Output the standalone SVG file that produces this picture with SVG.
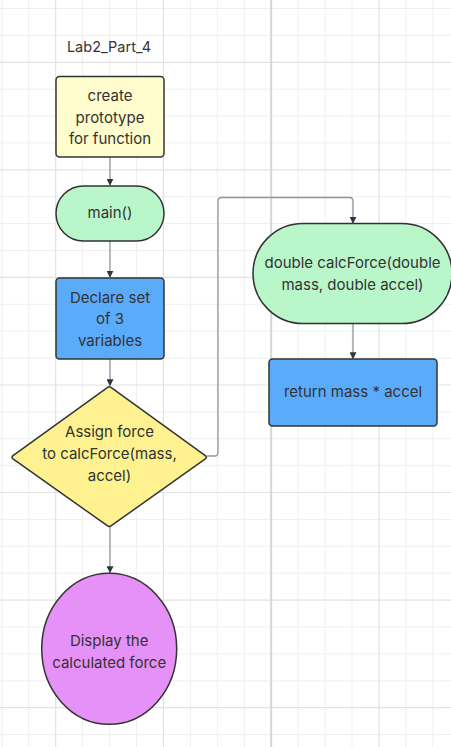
<svg xmlns="http://www.w3.org/2000/svg" width="451" height="747" viewBox="0 0 451 747">
<defs>
<style>
.minor{stroke:#efefef;stroke-width:1;fill:none}
.major{stroke:#e2e2e2;stroke-width:1.2;fill:none}
.page{stroke:#d6d6d6;stroke-width:2;fill:none}
.node{stroke:#333;stroke-width:1.5}
.t{font-family:Inter,"Liberation Sans",sans-serif;font-size:15px;fill:#333;text-anchor:middle}
.edge{stroke:#8f959d;stroke-width:1.3;fill:none}
</style>
<marker id="ah" viewBox="0 0 10 10" refX="9" refY="5" markerWidth="7" markerHeight="7" markerUnits="userSpaceOnUse" orient="auto">
<path d="M0,0 L10,5 L0,10 Z" fill="#2f3640"/>
</marker>
</defs>
<rect width="451" height="747" fill="#ffffff"/>
<g id="grid">
<path class="minor" d="M1.8,0V747M28.7,0V747M82.6,0V747M109.6,0V747M136.5,0V747M190.4,0V747M217.3,0V747M244.3,0V747M298.1,0V747M325.1,0V747M352,0V747M405.9,0V747M432.8,0V747
M0,8.5H451M0,35.4H451M0,89.2H451M0,116.1H451M0,142.9H451M0,196.7H451M0,223.6H451M0,250.5H451M0,304.3H451M0,331.2H451M0,358.1H451M0,411.9H451M0,438.7H451M0,465.6H451M0,519.4H451M0,546.3H451M0,573.2H451M0,627H451M0,653.9H451M0,680.8H451M0,734.5H451"/>
<path class="major" d="M55.7,0V747M163.4,0V747M379,0V747M0,62.3H451M0,169.8H451M0,277.4H451M0,385H451M0,492.5H451M0,600.1H451M0,707.6H451"/>
<path class="page" d="M271.2,0V747"/>
</g>
<text class="t" x="109" y="52" style="font-size:14.5px">Lab2_Part_4</text>
<g id="connectors">
<path class="edge" d="M110,157V185" marker-end="url(#ah)"/>
<path class="edge" d="M110,241V277" marker-end="url(#ah)"/>
<path class="edge" d="M110,359V385.5" marker-end="url(#ah)"/>
<path class="edge" d="M110,527V572.5" marker-end="url(#ah)"/>
<path class="edge" d="M207,456H214.5Q218,456 218,452.5V201Q218,197.5 221.5,197.5H349.5Q353,197.5 353,201V223" marker-end="url(#ah)"/>
<path class="edge" d="M353,323V358.5" marker-end="url(#ah)"/>
</g>
<g id="n_prototype">
<rect class="node" x="56" y="76.5" width="108" height="80.5" rx="3.5" fill="#fffccd"/>
<text class="t" x="110" y="101">create</text>
<text class="t" x="110" y="122.5">prototype</text>
<text class="t" x="110" y="144">for function</text>
</g>
<g id="n_main">
<rect class="node" x="56" y="186" width="108" height="55" rx="27.5" fill="#b9f6ca"/>
<text class="t" x="110" y="218">main()</text>
</g>
<g id="n_declare">
<rect class="node" x="56" y="278" width="108" height="81" rx="3.5" fill="#5aacfb"/>
<text class="t" x="110" y="302.5">Declare set</text>
<text class="t" x="110" y="324">of 3</text>
<text class="t" x="110" y="345.5">variables</text>
</g>
<g id="n_assign">
<path class="node" d="M107.3,387.6Q109.3,386 111.3,387.6L205.3,455.7Q207.3,457.3 205.3,458.9L111.3,525.7Q109.3,527.3 107.3,525.7L13,458.9Q11,457.3 13,455.7Z" fill="#fdf28f" stroke-linejoin="round"/>
<text class="t" x="109.5" y="437">Assign force</text>
<text class="t" x="109.5" y="459">to calcForce(mass,</text>
<text class="t" x="109.5" y="480.5">accel)</text>
</g>
<g id="n_display">
<ellipse class="node" cx="109.2" cy="648.8" rx="67.5" ry="75.5" fill="#e591f7"/>
<text class="t" x="109.2" y="646">Display the</text>
<text class="t" x="109.2" y="667.5">calculated force</text>
</g>
<g id="n_calcforce">
<rect class="node" x="253" y="223.5" width="199" height="100" rx="50" fill="#b9f6ca"/>
<text class="t" x="352.5" y="267.5">double calcForce(double</text>
<text class="t" x="352.5" y="289.5">mass, double accel)</text>
</g>
<g id="n_return">
<rect class="node" x="269" y="359" width="168" height="67" rx="3.5" fill="#5aacfb"/>
<text class="t" x="353" y="397">return mass * accel</text>
</g>
</svg>
